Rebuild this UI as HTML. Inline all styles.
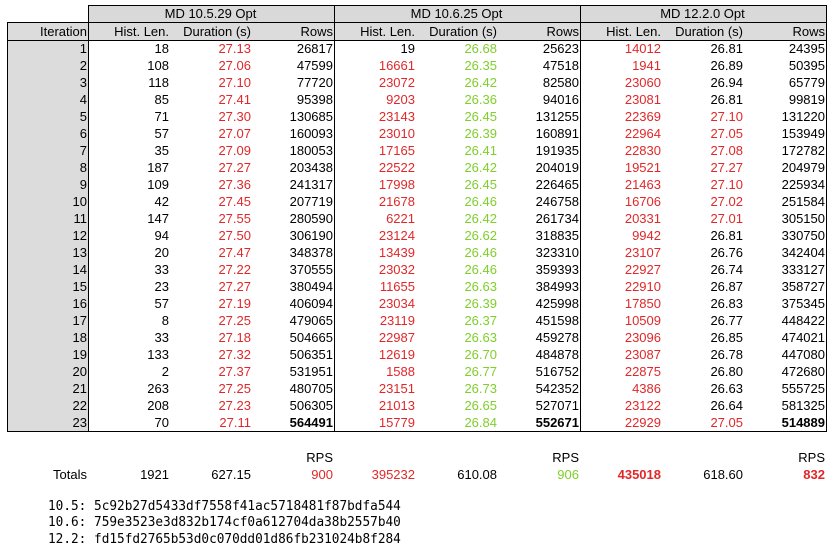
<!DOCTYPE html>
<html><head><meta charset="utf-8"><style>
body{margin:0;width:831px;height:552px;background:#fff;font-family:"Liberation Sans",sans-serif;font-size:13px;color:#000;position:relative;overflow:hidden}
.c{position:absolute;height:17px;line-height:17px;text-align:right;white-space:nowrap;box-sizing:border-box;padding-right:1px}
.r{color:#e0282a}.g{color:#7fcf2a}.b{font-weight:bold}
.ln{position:absolute;background:#000}
.mono{position:absolute;left:48px;font-family:"DejaVu Sans Mono","Liberation Mono",monospace;font-size:13px;white-space:pre;transform:scaleX(0.98);transform-origin:left}
</style></head><body>
<div style="position:absolute;left:7px;top:22px;width:81px;height:409px;background:#dcdcdc"></div>
<div style="position:absolute;left:88px;top:5px;width:738px;height:35px;background:#d9d9d9"></div>
<div style="position:absolute;left:7px;top:22px;width:819px;height:18px;background:#dcdcdc"></div>
<div id="t"></div>
<div class="mono" style="top:499px">10.5: 5c92b27d5433df7558f41ac5718481f87bdfa544</div>
<div class="mono" style="top:515px">10.6: 759e3523e3d832b174cf0a612704da38b2557b40</div>
<div class="mono" style="top:532px">12.2: fd15fd2765b53d0c070dd01d86fb231024b8f284</div>
<script>
const groups=["MD 10.5.29 Opt","MD 10.6.25 Opt","MD 12.2.0 Opt"];
const hist1=[18,108,118,85,71,57,35,187,109,42,147,94,20,33,23,57,8,33,133,2,263,208,70];
const dur1=["27.13","27.06","27.10","27.41","27.30","27.07","27.09","27.27","27.36","27.45","27.55","27.50","27.47","27.22","27.27","27.19","27.25","27.18","27.32","27.37","27.25","27.23","27.11"];
const rows1=[26817,47599,77720,95398,130685,160093,180053,203438,241317,207719,280590,306190,348378,370555,380494,406094,479065,504665,506351,531951,480705,506305,564491];
const hist2=[19,16661,23072,9203,23143,23010,17165,22522,17998,21678,6221,23124,13439,23032,11655,23034,23119,22987,12619,1588,23151,21013,15779];
const dur2=["26.68","26.35","26.42","26.36","26.45","26.39","26.41","26.42","26.45","26.46","26.42","26.62","26.46","26.46","26.63","26.39","26.37","26.63","26.70","26.77","26.73","26.65","26.84"];
const rows2=[25623,47518,82580,94016,131255,160891,191935,204019,226465,246758,261734,318835,323310,359393,384993,425998,451598,459278,484878,516752,542352,527071,552671];
const hist3=[14012,1941,23060,23081,22369,22964,22830,19521,21463,16706,20331,9942,23107,22927,22910,17850,10509,23096,23087,22875,4386,23122,22929];
const dur3=["26.81","26.89","26.94","26.81","27.10","27.05","27.08","27.27","27.10","27.02","27.01","26.81","26.76","26.74","26.87","26.83","26.77","26.85","26.78","26.80","26.63","26.64","27.05"];
const rows3=[24395,50395,65779,99819,131220,153949,172782,204979,225934,251584,305150,330750,342404,333127,358727,375345,448422,474021,447080,472680,555725,581325,514889];
const totals=[["1921","","627.15","","900","r"],["395232","r","610.08","","906","g"],["435018","r b","618.60","","832","r b"]];
const T=document.getElementById('t');
function cell(x,y,w,txt,cls,name,align){const d=document.createElement('div');d.className='c '+(cls||'');d.style.left=x+'px';d.style.top=y+'px';d.style.width=w+'px';if(align)d.style.textAlign=align;d.textContent=txt;


T.appendChild(d);}
function line(x,y,w,h,name){const d=document.createElement('div');d.className='ln';d.style.left=x+'px';d.style.top=y+'px';d.style.width=w+'px';d.style.height=h+'px';


T.appendChild(d);}
const gx=[88,334,580];
groups.forEach((g,i)=>cell(gx[i],5,246,g,'','group-header','center'));
cell(7,23,81,'Iteration','','iteration-header');
const H=[hist1,hist2,hist3],D=[dur1,dur2,dur3],R=[rows1,rows2,rows3];
for(let i=0;i<3;i++){cell(gx[i],23,82,'Hist. Len.','','hist-header');cell(gx[i]+82,23,82,'Duration (s)','','duration-header');cell(gx[i]+164,23,82,'Rows','','rows-header');}
for(let r=0;r<23;r++){const y=40+r*17;cell(7,y,81,String(r+1),'','iteration-cell');
for(let i=0;i<3;i++){const h=H[i][r];const hc=(i==0||(i==1&&h<1000))?'':'r';cell(gx[i],y,82,String(h),hc,'hist-cell');
const d=D[i][r];const dc=i==0?'r':i==1?'g':(parseFloat(d)>=27?'r':'');cell(gx[i]+82,y,82,d,dc,'duration-cell');
cell(gx[i]+164,y,82,String(R[i][r]),r==22?'b':'','rows-cell');}}
cell(7,466,81,'Totals','','totals-label');
for(let i=0;i<3;i++){const t=totals[i];cell(gx[i],466,82,t[0],t[1],'total-hist');cell(gx[i]+82,466,82,t[2],t[3],'total-duration');cell(gx[i]+164,449,82,'RPS','','rps-label');cell(gx[i]+164,466,82,t[4],t[5],'total-rps');}
line(88,5,739,1,'top-border');line(7,22,820,1,'group-header-bottom');line(7,40,820,1,'col-header-bottom');line(7,431,820,1,'table-bottom');
line(7,22,1,410,'left-border');line(88,5,1,427,'iteration-right-border');
gx.concat([826]).forEach(x=>line(x,5,1,427,'group-divider'));
</script>
</body></html>
